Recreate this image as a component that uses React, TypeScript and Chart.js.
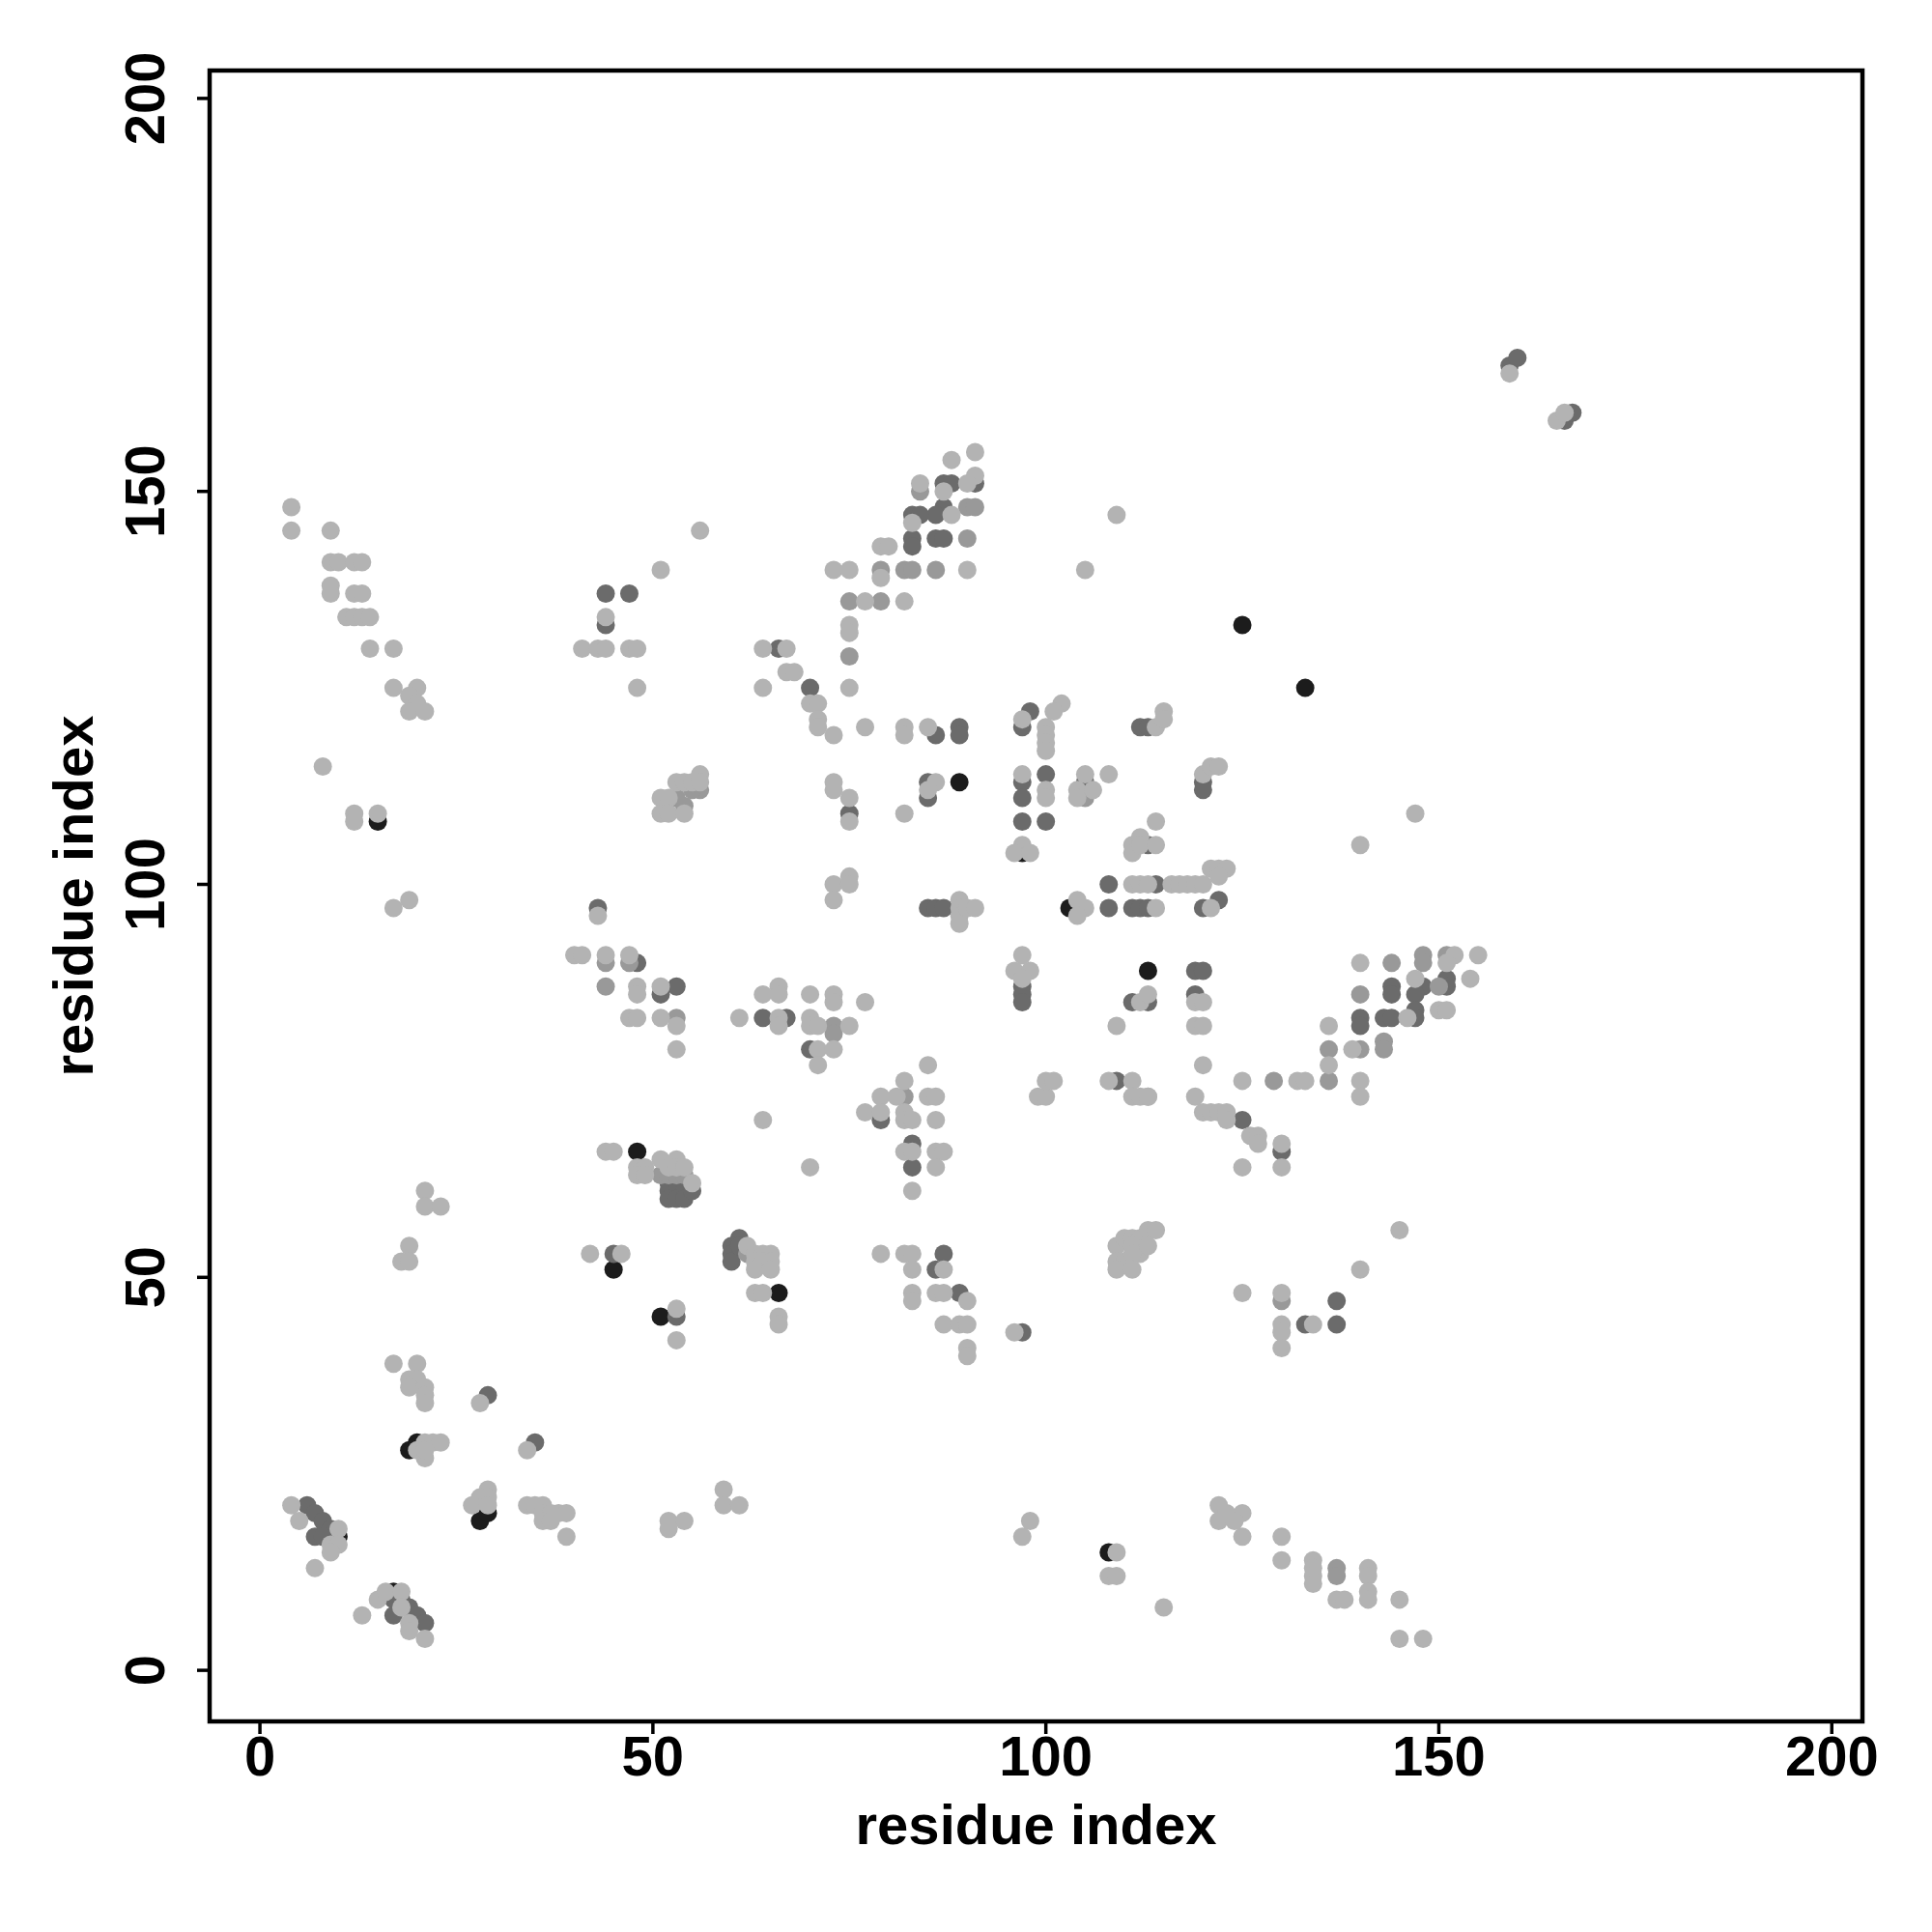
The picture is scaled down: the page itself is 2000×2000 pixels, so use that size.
import React, { useEffect, useRef } from "react";
import { Chart, registerables } from "chart.js";

Chart.register(...registerables);

// Contact points grouped by grey level: [residue i, residue j]
const lightPoints: number[][] = [
  [4,148],[4,145],[9,145],[9,141],[10,141],[12,141],[13,141],[9,138],[9,137],[12,137],[13,137],[11,134],[12,134],[13,134],[14,134],[14,130],[17,130],
  [51,140],[44,134],[41,130],[43,130],[44,130],[47,130],[48,130],[48,125],
  [17,125],[20,125],[19,124],[20,123],[19,122],[21,122],[8,115],[12,109],[12,108],[15,109],[17,97],[19,98],[43,96],
  [40,91],[41,91],[44,91],[47,91],[48,87],[48,86],[51,87],
  [51,111],[52,111],[53,113],[54,113],[55,113],[56,114],[56,113],[51,109],[52,109],[54,109],
  [56,145],[88,154],[91,155],[91,152],[90,151],[84,151],[87,150],[88,147],[83,146],[79,143],[80,143],[73,140],[75,140],[79,139],[90,140],[105,140],[109,147],
  [77,136],[82,136],[75,133],[75,132],[64,130],[67,130],[67,127],[68,127],[64,125],[75,125],[70,123],[71,123],[71,121],[71,120],[73,119],[77,120],
  [82,120],[82,119],[85,120],[97,121],[102,123],[101,122],[100,120],[100,119],[100,118],[100,117],[114,120],[115,122],[115,121],
  [73,113],[73,112],[75,111],[75,108],[82,109],[86,113],[85,112],[97,114],[100,112],[100,111],[97,105],[96,104],[98,104],
  [105,114],[104,112],[104,111],[106,112],[108,114],[114,108],[111,105],[111,104],[112,106],[112,105],[114,105],
  [73,100],[75,101],[75,100],[73,98],[89,98],[89,97],[89,96],[89,95],[90,97],[91,97],[104,98],[105,97],[104,96],
  [111,100],[112,100],[113,100],[116,100],[117,100],[118,100],[119,100],[120,100],[121,102],[122,102],[123,102],[122,101],[114,97],[121,97],
  [96,89],[98,89],[97,91],[97,88],[112,85],[113,86],[119,85],[120,85],
  [120,114],[121,115],[122,115],[147,109],[140,105],
  [140,90],[152,91],[151,90],[155,91],[154,88],[147,88],[150,84],[151,84],
  [64,86],[66,87],[66,86],[70,86],[73,86],[73,85],[77,85],
  [119,82],[120,82],[120,77],[136,82],[146,83],[136,77],[139,79],[125,75],[132,75],[133,75],[140,75],[140,73],[113,73],[119,73],
  [120,71],[121,71],[122,71],[123,71],[123,70],[126,68],[127,68],[127,67],[130,67],[130,64],[125,64],[145,56],[140,51],[125,48],[130,48],
  [130,44],[130,43],[130,41],[134,44],
  [109,54],[110,55],[111,55],[112,55],[113,56],[114,56],[111,54],[112,53],[109,52],[110,52],[111,53],[113,54],[109,51],[111,51],
  [61,83],[66,83],[66,82],[70,83],[70,82],[71,82],[75,82],[71,79],[73,79],[71,77],[109,82],[64,70],[70,64],
  [85,77],[82,75],[79,73],[81,73],[85,73],[86,73],[77,71],[79,71],[82,71],[82,70],[83,70],[86,70],[82,66],[83,66],[86,66],[87,66],[86,64],[83,61],
  [99,73],[100,73],[100,75],[101,75],[108,75],[111,75],[111,73],[112,73],[113,73],
  [62,54],[63,53],[64,53],[65,53],[63,52],[64,52],[65,52],[63,51],[65,51],[63,48],[64,48],[66,45],[66,44],
  [79,53],[82,53],[83,53],[83,51],[87,51],[83,48],[83,47],[86,48],[87,48],[90,47],[87,44],[89,44],[90,44],[90,41],[90,40],[96,43],
  [47,83],[48,83],[51,83],[53,82],[53,79],[44,66],[45,66],
  [48,64],[49,64],[48,63],[49,63],[51,65],[53,65],[52,64],[53,64],[54,64],[55,62],
  [21,61],[21,59],[23,59],[19,54],[18,52],[19,52],[42,53],[46,53],[53,46],[53,42],
  [17,39],[20,39],[19,37],[20,37],[19,36],[21,36],[21,35],[21,34],[28,34],[21,29],[22,29],[23,29],[21,27],[20,28],[21,28],[34,28],
  [29,23],[28,22],[29,22],[27,21],[29,21],[34,21],[35,21],[36,21],[36,20],[37,20],[38,20],[39,20],[36,19],[37,19],[39,17],[52,19],[54,19],[52,18],
  [4,21],[5,19],[10,18],[9,16],[10,16],[9,15],[7,13],
  [15,9],[16,10],[18,10],[18,8],[19,6],[19,5],[21,4],[13,7],
  [59,23],[59,21],[61,21],[98,19],[97,17],[109,15],[108,12],[109,12],
  [122,21],[123,20],[125,20],[122,19],[124,19],[125,17],[130,17],[130,14],[134,14],[134,13],[134,12],[134,11],[137,9],[138,9],
  [141,13],[141,12],[141,10],[141,9],[145,9],[145,4],[148,4],[115,8],[159,165],[165,159],[166,160],
];

const greyPoints: number[][] = [
  [84,150],[53,111],[54,110],[56,112],[55,112],[90,148],[91,148],[79,140],[86,140],[90,144],[82,140],[83,140],
  [75,136],[79,136],[75,129],[44,90],[47,90],[44,87],[105,111],[144,90],[148,91],[148,90],[151,91],[140,86],[150,87],
  [136,79],[140,79],[143,80],[143,79],[129,75],[136,75],[130,47],[73,82],[73,81],[82,73],[62,53],[53,83],
  [51,63],[52,63],[53,63],[54,63],[137,13],[137,12],
];

const midPoints: number[][] = [
  [159,166],[160,167],[166,159],[167,160],[44,137],[47,137],[44,133],[91,151],[87,151],[88,151],[87,148],[86,147],[83,147],[84,147],
  [83,144],[83,143],[86,144],[87,144],[66,130],[70,125],[86,119],[89,120],[89,119],[98,122],[97,120],[112,120],[113,120],
  [75,109],[85,113],[85,111],[97,113],[97,111],[100,114],[97,108],[100,108],[105,113],[113,105],[85,97],[86,97],[87,97],
  [108,100],[108,97],[111,97],[112,97],[113,97],[114,100],[120,97],[122,98],[97,87],[97,86],[97,85],[111,85],[113,85],
  [119,89],[120,89],[119,86],[120,113],[120,112],[43,97],[48,90],[51,86],[53,87],[144,87],[144,86],[148,87],[147,86],
  [151,88],[151,87],[147,84],[140,83],[140,82],[143,83],[144,83],[147,83],[125,70],[130,66],[137,47],[133,44],[137,44],
  [64,83],[67,83],[70,79],[79,70],[83,67],[83,64],[109,75],[61,55],[60,54],[60,53],[60,52],[61,54],[87,53],[86,51],[89,48],
  [97,43],[45,53],[53,45],[52,62],[53,62],[54,62],[52,61],[53,61],[54,61],[52,60],[53,60],[54,60],[55,61],[29,35],[35,29],
  [6,21],[7,20],[8,19],[9,18],[7,17],[8,17],[17,9],[18,9],[19,8],[20,7],[21,6],[17,7],
];

const darkPoints: number[][] = [
  [125,133],[133,125],[15,108],[89,113],[97,104],[103,97],[113,89],[48,66],[51,45],[45,51],[66,48],
  [19,28],[20,29],[28,19],[29,20],[10,17],[17,10],[108,15],
];

const tickValues = [0, 50, 100, 150, 200];
const axisTitle = "residue index";

const toXY = (arr: number[][]) => arr.map(([x, y]) => ({ x, y }));

export default function App() {
  const ref = useRef<HTMLCanvasElement | null>(null);

  useEffect(() => {
    if (!ref.current) return;
    const font = "bold 58px 'Liberation Sans', Arial, sans-serif";
    const framePlugin = {
      id: "frame",
      afterDraw(chart: any) {
        const { ctx, chartArea: a, scales } = chart;
        const xs = scales.x;
        const ys = scales.y;
        ctx.save();
        ctx.strokeStyle = "#000";
        ctx.lineWidth = 4.5;
        ctx.strokeRect(a.left, a.top, a.right - a.left, a.bottom - a.top);
        ctx.fillStyle = "#000";
        ctx.font = font;
        ctx.textAlign = "center";
        ctx.textBaseline = "middle";
        ctx.lineWidth = 3.5;
        for (const v of tickValues) {
          const px = xs.getPixelForValue(v);
          ctx.beginPath();
          ctx.moveTo(px, a.bottom);
          ctx.lineTo(px, a.bottom + 13);
          ctx.stroke();
          ctx.fillText(String(v), px, 1822);
          const py = ys.getPixelForValue(v);
          ctx.beginPath();
          ctx.moveTo(a.left, py);
          ctx.lineTo(a.left - 13, py);
          ctx.stroke();
          ctx.save();
          ctx.translate(154, py);
          ctx.rotate(-Math.PI / 2);
          ctx.fillText(String(v), 0, 0);
          ctx.restore();
        }
        ctx.fillText(axisTitle, (a.left + a.right) / 2, 1893);
        ctx.save();
        ctx.translate(80, (a.top + a.bottom) / 2);
        ctx.rotate(-Math.PI / 2);
        ctx.fillText(axisTitle, 0, 0);
        ctx.restore();
        ctx.restore();
      },
    };

    const mk = (data: number[][], color: string) => ({
      data: toXY(data),
      backgroundColor: color,
      borderWidth: 0,
      pointRadius: 9.5,
      pointHoverRadius: 9.5,
    });

    const chart = new Chart(ref.current, {
      type: "scatter",
      data: {
        datasets: [
          mk(lightPoints, "#b3b3b3"),
          mk(greyPoints, "#999999"),
          mk(midPoints, "#6b6b6b"),
          mk(darkPoints, "#1c1c1c"),
        ],
      },
      options: {
        animation: false,
        responsive: false,
        layout: { padding: { left: 217, top: 73, right: 72, bottom: 218 } },
        plugins: { legend: { display: false }, tooltip: { enabled: false } },
        scales: {
          x: { type: "linear", min: -6.4, max: 203.9, display: false },
          y: { type: "linear", min: -6.5, max: 203.55, display: false },
        },
      },
      plugins: [framePlugin],
    });
    return () => chart.destroy();
  }, []);

  return (
    <div style={{ position: "absolute", left: 0, top: 0, width: 2000, height: 2000, background: "#fff" }}>
      <canvas ref={ref} width={2000} height={2000} style={{ width: 2000, height: 2000 }} />
    </div>
  );
}
